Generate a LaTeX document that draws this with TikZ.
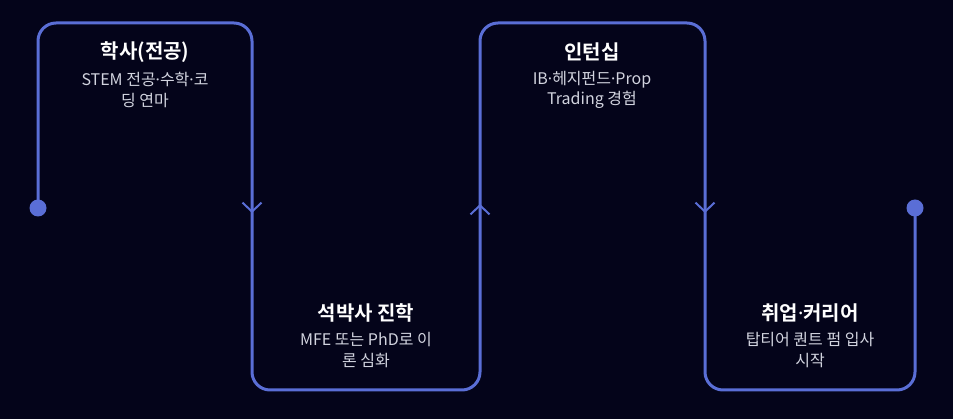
\documentclass[tikz,border=0pt]{standalone}
\usepackage{fontspec}
\setmainfont{Noto Sans CJK KR}[BoldFont={Noto Sans CJK KR Bold}]
\newfontfamily\latinfont{Noto Sans}
\usepackage{tikz}
\usetikzlibrary{positioning,arrows.meta,calc,backgrounds}

\definecolor{bgnavy}{HTML}{04041A}
\definecolor{pathblue}{HTML}{5A6ED6}
\definecolor{desctext}{HTML}{D2D4DF}
\newcommand{\middot}{{\latinfont ·}}

\begin{document}
\begin{tikzpicture}[
  x=1pt, y=-1pt,
  flow/.style={draw=pathblue, line width=3pt, rounded corners=18pt},
  chev/.style={draw=pathblue, line width=2pt,
               -{Straight Barb[length=9pt, width=19pt, line width=2pt]}},
  dot/.style={circle, fill=pathblue, minimum size=17pt, inner sep=0pt},
  ttl/.style={text=white, font=\fontsize{20}{23}\selectfont\bfseries},
  desc/.style={text=desctext, align=center,
               font=\fontsize{16}{20.5}\selectfont}
]
% ---- corners of the snake ----
\coordinate (c1) at (38,23);
\coordinate (c2) at (252,23);
\coordinate (c3) at (252,390);
\coordinate (c4) at (480,390);
\coordinate (c5) at (480,23);
\coordinate (c6) at (705,23);
\coordinate (c7) at (705,390);
\coordinate (c8) at (915,390);

% ---- end dots ----
\node[dot] (start) at (38,208) {};
\node[dot] (finish) at (915,208) {};

% ---- background + path ----
\begin{scope}[on background layer]
\fill[bgnavy] (0,0) rectangle (953,419);
\draw[flow] (start.center) -- (c1) -- (c2) -- (c3) -- (c4) -- (c5)
  -- (c6) -- (c7) -- (c8) -- (finish.center);
\end{scope}
\useasboundingbox (0,0) rectangle (953,419);

% direction chevrons
\coordinate (m1) at (252,213);
\coordinate (m2) at (480,204);
\coordinate (m3) at (705,213);
\draw[chev] ($(m1)+(0,-10)$) -- (m1);
\draw[chev] ($(m2)+(0,10)$) -- (m2);
\draw[chev] ($(m3)+(0,-10)$) -- (m3);

% ---- stage texts ----
\node[ttl] (t1) at (145,52) {학사(전공)};
\node[desc, below=3pt of t1] (d1) {STEM 전공\middot 수학\middot 코\\딩 연마};

\node[ttl] (t2) at (366,313) {석박사 진학};
\node[desc, below=3pt of t2] (d2) {MFE 또는 PhD로 이\\론 심화};

\node[ttl] (t3) at (592,52) {인턴십};
\node[desc, below=3pt of t3] (d3) {IB\middot 헤지펀드\middot Prop\\Trading 경험};

\node[ttl] (t4) at (810,313) {취업\middot 커리어};
\node[desc, below=3pt of t4] (d4) {탑티어 퀀트 펌 입사\\시작};
\end{tikzpicture}
\end{document}
